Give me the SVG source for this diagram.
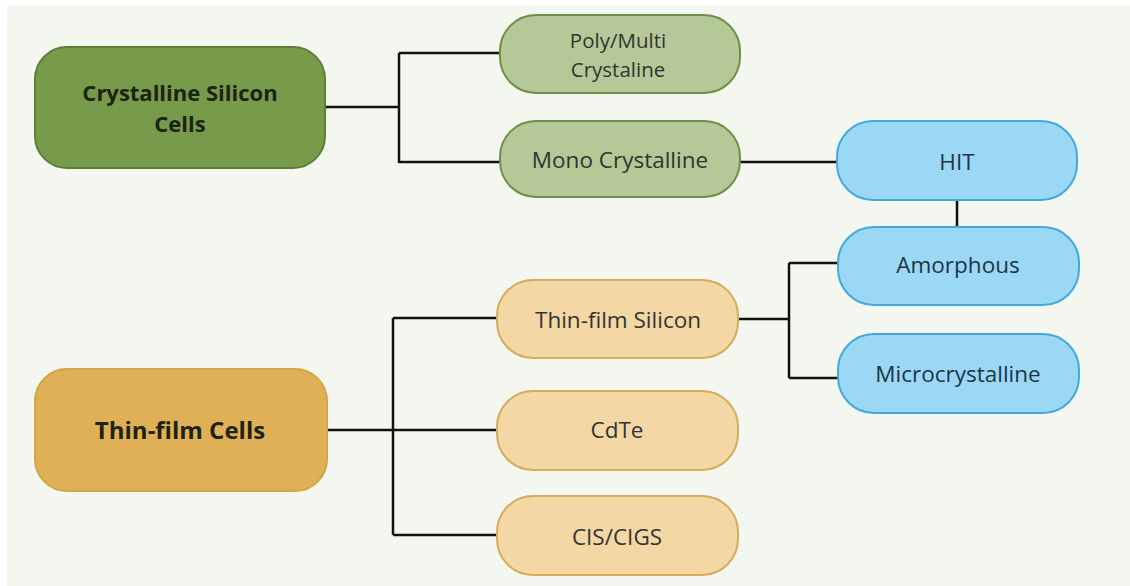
<svg xmlns="http://www.w3.org/2000/svg" width="1130" height="586" viewBox="0 0 1130 586">
<style>
.t{font-family:"Open Sans","Noto Sans","Liberation Sans",sans-serif;text-anchor:middle}
.b{font-weight:bold;font-size:24px;fill:#1c2410}
.b2{font-weight:bold;font-size:22px;fill:#1c2410}
.n{font-size:22.5px;fill:#333}
.n2{font-size:20.5px;fill:#333}
.nb{font-size:22.5px;fill:#1d3444}
.gm{fill:#779a4b;stroke:#5f7d36;stroke-width:2}
.gl{fill:#b4c997;stroke:#6f8f44;stroke-width:2}
.om{fill:#e0b056;stroke:#d2a546;stroke-width:2}
.ol{fill:#f3d7a5;stroke:#d6ab5b;stroke-width:2}
.bl{fill:#9ad8f5;stroke:#43a8de;stroke-width:2}
.c{fill:none;stroke:#111;stroke-width:2.5}
</style>
<rect x="0" y="0" width="1130" height="586" fill="#ffffff"/>
<rect x="7" y="5" width="1123" height="581" fill="#f3f7f0"/>
<g id="connectors">
<path class="c" d="M326 107 H399 M399 53 V163 M399 53 H501 M399 162 H501"/>
<path class="c" d="M739 162 H838 M957 200 V228"/>
<path class="c" d="M739 319 H789 M789 263 V378 M789 263 H839 M789 378 H839"/>
<path class="c" d="M327 430 H393 M393 318 V535 M393 318 H498 M393 430 H498 M393 535 H498"/>
</g>
<g id="crystalline">
<rect class="gm" x="35" y="47" width="290" height="121" rx="32"/>
<text class="t b2" x="180" y="101">Crystalline Silicon</text>
<text class="t b2" x="180" y="131.5">Cells</text>
</g>
<g id="poly">
<rect class="gl" x="500" y="15" width="240" height="78" rx="36"/>
<text class="t n2" x="618" y="48">Poly/Multi</text>
<text class="t n2" x="618" y="76.5">Crystaline</text>
</g>
<g id="mono">
<rect class="gl" x="500" y="121" width="240" height="76" rx="36"/>
<text class="t n" x="620" y="168">Mono Crystalline</text>
</g>
<g id="hit">
<rect class="bl" x="837" y="121" width="240" height="79" rx="36"/>
<text class="t nb" x="957" y="170">HIT</text>
</g>
<g id="amorphous">
<rect class="bl" x="838" y="227" width="241" height="78" rx="36"/>
<text class="t nb" x="958" y="273">Amorphous</text>
</g>
<g id="microcrystalline">
<rect class="bl" x="838" y="334" width="241" height="79" rx="36"/>
<text class="t nb" x="958" y="382">Microcrystalline</text>
</g>
<g id="thinfilm">
<rect class="om" x="35" y="369" width="292" height="122" rx="32"/>
<text class="t b" x="180" y="439">Thin-film Cells</text>
</g>
<g id="thinfilmsilicon">
<rect class="ol" x="497" y="280" width="241" height="78" rx="36"/>
<text class="t n" x="618" y="328">Thin-film Silicon</text>
</g>
<g id="cdte">
<rect class="ol" x="497" y="391" width="241" height="79" rx="36"/>
<text class="t n" x="617" y="438">CdTe</text>
</g>
<g id="cis">
<rect class="ol" x="497" y="496" width="241" height="79" rx="36"/>
<text class="t n" x="617" y="545">CIS/CIGS</text>
</g>
</svg>
